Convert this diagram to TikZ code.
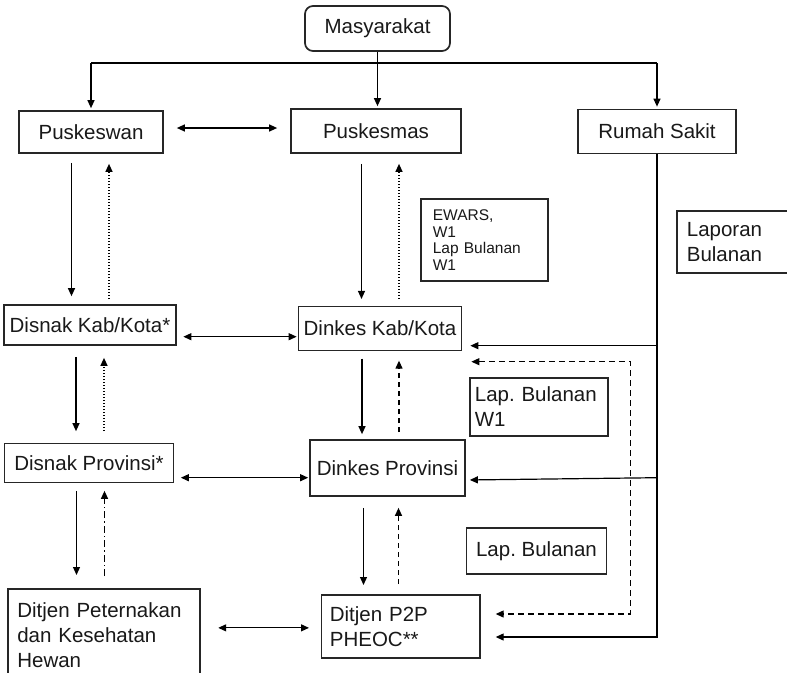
\documentclass[tikz,border=0pt]{standalone}
\usepackage{fontspec}
\setmainfont{Liberation Sans}
\usetikzlibrary{arrows.meta}
\newcommand\mainsz{\fontsize{20.5}{25}\selectfont}
\newcommand\smallsz{\fontsize{15.5}{16.5}\selectfont}
\begin{document}
\frenchspacing
\hyphenpenalty=10000
\exhyphenpenalty=10000
\begin{tikzpicture}[x=1pt,y=-1pt,
  box/.style={draw=black!85, line width=1.7pt, fill=white, text=black!90, font=\mainsz, inner sep=0pt},
  lbox/.style={box, align=left, anchor=north west},
  ln/.style={line width=1.2pt, black},
  arr/.style={ln, -{Triangle[length=8pt,width=7pt]}},
  dbl/.style={ln, {Triangle[length=8pt,width=7pt]}-{Triangle[length=8pt,width=7pt]}},
  dots/.style={dash pattern=on 1.3pt off 1.7pt},
  dsh/.style={dash pattern=on 5pt off 4pt},
  dshdot/.style={dash pattern=on 7pt off 3pt on 1.5pt off 3pt}]
\useasboundingbox (0,0) rectangle (787,672);

% boxes
\node[box, rounded corners=8pt, minimum width=145pt, minimum height=45pt] (mas) at (377.5,28.5) {Masyarakat};
\node[box, minimum width=144pt, minimum height=42pt] (pkw) at (91,132) {Puskeswan};
\node[box, minimum width=170pt, minimum height=44pt] (pkm) at (376,131) {Puskesmas};
\node[box, minimum width=158pt, minimum height=44pt] (rs) at (657,131.5) {Rumah Sakit};
\node[lbox, font=\smallsz, text width=103pt, inner xsep=12pt, minimum height=82pt] (ewars) at (420,198) {EWARS,\\W1\\Lap Bulanan\\W1};
\node[lbox, text width=110pt, inner xsep=10pt, minimum height=62pt] (lapb) at (676,210) {Laporan\\Bulanan};
\node[box, minimum width=172pt, minimum height=40pt] (dnkab) at (90,325) {Disnak Kab/Kota*};
\node[box, minimum width=163pt, minimum height=44pt] (dkkab) at (380,328.5) {Dinkes Kab/Kota};
\node[lbox, text width=128pt, inner xsep=5pt, minimum height=58pt] (lbw1) at (469,377) {Lap. Bulanan\\W1};
\node[box, minimum width=169pt, minimum height=39pt] (dnprov) at (89,463) {Disnak Provinsi*};
\node[box, minimum width=155pt, minimum height=56pt] (dkprov) at (387.5,468) {Dinkes Provinsi};
\node[box, minimum width=140pt, minimum height=46pt] (lb2) at (536.5,551) {Lap. Bulanan};
\node[lbox, text width=173pt, inner xsep=9.5pt, minimum height=92pt] (djpkh) at (7,588) {Ditjen Peternakan\\dan Kesehatan\\Hewan};
\node[lbox, text width=141.5pt, inner xsep=8.5pt, minimum height=63pt] (djp2p) at (320.5,594) {Ditjen P2P\\PHEOC**};

% Masyarakat to the three services
\coordinate (bus) at (0,63);
\draw[ln] (bus -| pkw.north) -- (bus -| rs.north);
\draw[arr, shorten >=2pt] (mas.south) -- (mas.south |- pkm.north);
\draw[arr, shorten >=2pt] (bus -| pkw.north) -- (pkw.north);
\draw[arr, shorten >=2pt] (bus -| rs.north) -- (rs.north);

% horizontal links
\draw[dbl, shorten <=13pt, shorten >=13pt] ([yshift=4pt]pkw.east) -- ([yshift=4pt]pkw.east -| pkm.west);
\draw[dbl, shorten <=6.5pt, shorten >=1pt] ([yshift=-11.7pt]dnkab.east) -- ([yshift=-11.7pt]dnkab.east -| dkkab.west);
\draw[dbl, shorten <=6.5pt, shorten >=1pt] ([yshift=-14.7pt]dnprov.east) -- ([yshift=-14.7pt]dnprov.east -| dkprov.west);
\draw[dbl, shorten <=11.5pt, shorten >=17.5pt] ([yshift=-1.5pt]djp2p.west) -- ([yshift=-1.5pt]djp2p.west -| djpkh.east);

% animal health chain
\draw[arr, shorten <=9pt, shorten >=8pt] (71.5,0 |- pkw.south) -- (71.5,0 |- dnkab.north);
\draw[arr, dots, shorten <=5pt, shorten >=10pt] (109,0 |- dnkab.north) -- (109,0 |- pkw.south);
\draw[arr, shorten <=11pt, shorten >=11.5pt] (76,0 |- dnkab.south) -- (76,0 |- dnprov.north);
\draw[arr, dots, shorten <=11.5pt, shorten >=12pt] (104,0 |- dnprov.north) -- (104,0 |- dnkab.south);
\draw[arr, shorten <=7.5pt, shorten >=13pt] (76.5,0 |- dnprov.south) -- (76.5,0 |- djpkh.north);
\draw[arr, dshdot, shorten <=12pt, shorten >=7.5pt] (104.5,0 |- djpkh.north) -- (104.5,0 |- dnprov.south);

% human health chain
\draw[arr, shorten <=10pt, shorten >=6.7pt] (361.5,0 |- pkm.south) -- (361.5,0 |- dkkab.north);
\draw[arr, dots, shorten <=6.7pt, shorten >=10pt] (399,0 |- dkkab.north) -- (399,0 |- pkm.south);
\draw[arr, shorten <=7.3pt, shorten >=5pt] (362,0 |- dkkab.south) -- (362,0 |- dkprov.north);
\draw[arr, dsh, shorten <=7pt, shorten >=9.3pt] (399,0 |- dkprov.north) -- (399,0 |- dkkab.south);
\draw[arr, shorten <=11pt, shorten >=9pt] (363.5,0 |- dkprov.south) -- (363.5,0 |- djp2p.north);
\draw[arr, dsh, shorten <=10pt, shorten >=11pt] (398.5,0 |- djp2p.north) -- (398.5,0 |- dkprov.south);

% hospital reports
\draw[arr, shorten >=15pt] (rs.south) |- (djp2p.east |- 0,637);
\draw[arr, shorten >=8pt] (rs.south |- 0,345.7) -- (dkkab.east |- 0,345.7);
\draw[arr, shorten >=4pt] (rs.south |- 0,477.7) -- (dkprov.east |- 0,480);

% monthly report feedback
\draw[dbl, dash pattern=on 6pt off 4pt, shorten <=9pt, shorten >=15pt]
  (dkkab.east |- 0,361.7) -- ++(168,0) |- (djp2p.east |- 0,614);
\end{tikzpicture}
\end{document}
